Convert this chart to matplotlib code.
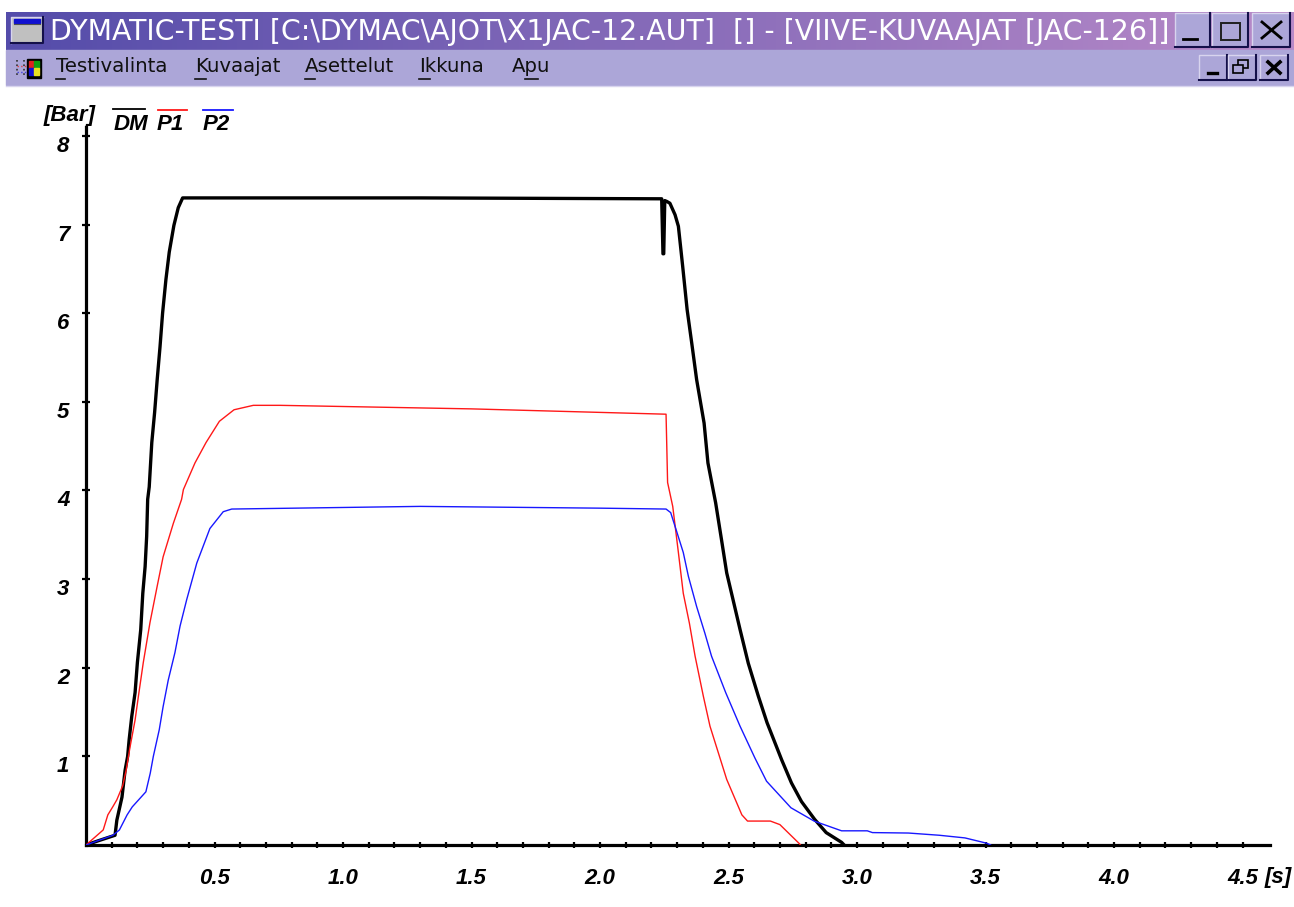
import numpy as np
import matplotlib
matplotlib.use('Agg')
import matplotlib.pyplot as plt
from matplotlib.patches import Rectangle

# curves: time [s], pressure [Bar]
dm_t = [0, 0.05, 0.113, 0.12, 0.14, 0.152, 0.162, 0.168, 0.178, 0.191, 0.20, 0.213, 0.221, 0.23, 0.236, 0.24,
        0.246, 0.256, 0.267, 0.277, 0.288, 0.298, 0.311, 0.324, 0.342, 0.359, 0.376,
        1.3, 2.24, 2.245, 2.248, 2.252, 2.26, 2.272, 2.292, 2.305, 2.315, 2.322, 2.339, 2.358, 2.376,
        2.405, 2.42, 2.45, 2.473, 2.493, 2.515, 2.545, 2.577, 2.616, 2.65, 2.707, 2.745, 2.784, 2.835,
        2.88, 2.94, 2.95]
dm_p = [0, 0.05, 0.11, 0.28, 0.54, 0.84, 1.0, 1.19, 1.45, 1.72, 2.06, 2.43, 2.84, 3.14, 3.48, 3.90,
        4.04, 4.54, 4.88, 5.25, 5.62, 6.0, 6.38, 6.69, 6.99, 7.19, 7.30,
        7.30, 7.29, 6.67, 6.67, 7.27, 7.26, 7.24, 7.11, 6.98, 6.71, 6.52, 6.04, 5.64, 5.25,
        4.76, 4.31, 3.86, 3.44, 3.07, 2.80, 2.43, 2.05, 1.68, 1.38, 0.96, 0.70, 0.49, 0.29,
        0.14, 0.03, 0]
p1_t = [0, 0.067, 0.085, 0.104, 0.12, 0.143, 0.156, 0.171, 0.191, 0.204, 0.223, 0.249, 0.277, 0.30, 0.34,
        0.372, 0.379, 0.424, 0.467, 0.519, 0.576, 0.651, 0.755, 1.5, 2.257, 2.26, 2.263, 2.283, 2.305,
        2.324, 2.348, 2.37, 2.402, 2.428, 2.467, 2.493, 2.552, 2.574, 2.663, 2.70, 2.774, 2.78]
p1_p = [0, 0.17, 0.34, 0.43, 0.51, 0.67, 0.84, 1.10, 1.41, 1.68, 2.06, 2.51, 2.92, 3.25, 3.63,
        3.90, 4.01, 4.31, 4.54, 4.78, 4.91, 4.96, 4.96, 4.92, 4.86, 4.48, 4.09, 3.82, 3.30,
        2.84, 2.5, 2.13, 1.68, 1.34, 0.98, 0.74, 0.34, 0.27, 0.27, 0.23, 0.02, 0]
p2_t = [0, 0.105, 0.13, 0.16, 0.18, 0.233, 0.25, 0.262, 0.285, 0.30, 0.32, 0.346, 0.366, 0.392, 0.431,
        0.482, 0.534, 0.567, 1.3, 2.0, 2.257, 2.275, 2.298, 2.324, 2.344, 2.376, 2.408, 2.434, 2.489,
        2.545, 2.603, 2.648, 2.743, 2.833, 2.94, 3.04, 3.06, 3.2, 3.32, 3.42, 3.505, 3.52]
p2_p = [0, 0.11, 0.17, 0.34, 0.43, 0.6, 0.81, 1.0, 1.30, 1.56, 1.86, 2.17, 2.47, 2.77, 3.18,
        3.57, 3.76, 3.79, 3.82, 3.80, 3.79, 3.75, 3.54, 3.30, 3.03, 2.69, 2.39, 2.13, 1.72,
        1.34, 0.98, 0.72, 0.42, 0.27, 0.16, 0.16, 0.14, 0.135, 0.11, 0.08, 0.02, 0]

x_labels = ['0.5', '1.0', '1.5', '2.0', '2.5', '3.0', '3.5', '4.0', '4.5']
x_label_pos = [0.5, 1.0, 1.5, 2.0, 2.5, 3.0, 3.5, 4.0, 4.5]
y_ticks = [1, 2, 3, 4, 5, 6, 7, 8]

title = 'DYMATIC-TESTI [C:\\DYMAC\\AJOT\\X1JAC-12.AUT]  [] - [VIIVE-KUVAAJAT [JAC-126]]'
menu_items = ['Testivalinta', 'Kuvaajat', 'Asettelut', 'Ikkuna', 'Apu']
menu_x = [56, 195, 305, 419, 512]

W, H = 1294, 907
fig = plt.figure(figsize=(W / 100, H / 100), dpi=100, facecolor='white')

# chart area, placed in pixels
left, right, top, bottom = 86, 1270, 127, 845
ax = fig.add_axes([left / W, 1 - bottom / H, (right - left) / W, (bottom - top) / H])
ax.set_xlim(0, 4.607)
ax.set_ylim(0, 8.10)
ax.plot(dm_t, dm_p, color='black', lw=2.4, solid_joinstyle='round', zorder=3)
ax.plot(p1_t, p1_p, color='#ff1818', lw=1.0, zorder=4)
ax.plot(p2_t, p2_p, color='#1818ff', lw=1.0, zorder=4)

for s in ['top', 'right']:
    ax.spines[s].set_visible(False)
for s in ['left', 'bottom']:
    ax.spines[s].set_linewidth(2.3)

lab_font = dict(family='Liberation Sans', weight='bold', style='italic', size=16)
ax.set_xticks(x_label_pos, x_labels, **lab_font)
ax.set_xticks(np.arange(1, 46) / 10, minor=True)
ax.tick_params(axis='x', which='both', direction='inout', length=5, width=1.6, pad=14)
ax.set_yticks(y_ticks, [str(v) for v in y_ticks], va='top', **lab_font)
ax.tick_params(axis='y', direction='inout', length=6, width=1.6, pad=9)

# pixel overlay for the window decoration and the hand placed labels
ov = fig.add_axes([0, 0, 1, 1], facecolor='none')
grad = np.linspace(0, 1, 256)[None, :, None]
c0 = np.array([84, 76, 170]) / 255
c1 = np.array([184, 138, 200]) / 255
ov.imshow(c0 + grad * (c1 - c0), extent=[6, 1294, 50, 12], aspect='auto', zorder=1)
ov.set_xlim(0, W)
ov.set_ylim(H, 0)
ov.axis('off')
ov.add_patch(Rectangle((6, 50), 1288, 35, color='#aca6d8', zorder=1))
ov.plot([6, 1294], [85.5, 85.5], color='#d8d4ee', lw=1, zorder=2)


def button(x0, y0, x1, y1, face='#aca6d8'):
    ov.add_patch(Rectangle((x0, y0), x1 - x0, y1 - y0, facecolor=face, edgecolor='none', zorder=2))
    ov.plot([x0, x0, x1], [y1, y0, y0], color='#d8d4ee', lw=1, zorder=3)
    ov.plot([x0, x1, x1], [y1, y1, y0], color='#14104a', lw=1.5, zorder=3)


# system icon
button(11, 17, 43, 43, face='#c0c0c0')
ov.add_patch(Rectangle((14, 19), 26, 3.5, color='#1010d0', zorder=4))
ov.plot([14, 40], [24, 24], color='#505050', lw=0.8, zorder=4)

ov.text(50, 32, title, color='white', family='DejaVu Sans', size=20.4, va='center', ha='left', zorder=5)

# window buttons
button(1175, 13, 1210, 47)
button(1212, 13, 1248, 47)
button(1252, 13, 1290, 47)
ov.plot([1183, 1197], [39, 39], color='black', lw=2, zorder=5)
ov.add_patch(Rectangle((1221, 23), 19, 17, fill=False, edgecolor='#202020', lw=1.4, zorder=5))
ov.plot([1262, 1281], [22, 38], color='black', lw=2, zorder=5)
ov.plot([1262, 1281], [38, 22], color='black', lw=2, zorder=5)

button(1199, 55, 1227, 80)
button(1228, 55, 1256, 80)
button(1260, 55, 1288, 80)
ov.plot([1208, 1217], [73, 73], color='black', lw=2.4, zorder=5)
ov.add_patch(Rectangle((1238, 60), 10, 8, facecolor='none', edgecolor='black', lw=1.2, zorder=5))
ov.add_patch(Rectangle((1233, 65), 10, 8, facecolor='#aca6d8', edgecolor='black', lw=1.2, zorder=6))
ov.plot([1268, 1280], [62, 73], color='black', lw=2.6, zorder=5)
ov.plot([1268, 1280], [73, 62], color='black', lw=2.6, zorder=5)

# small menu icon: dotted grid and a window with four colours
ov.add_patch(Rectangle((27, 59), 14, 19, color='black', zorder=4))
ov.add_patch(Rectangle((29, 61), 5, 7, color='#e02020', zorder=5))
ov.add_patch(Rectangle((34, 61), 5, 7, color='#10a010', zorder=5))
ov.add_patch(Rectangle((29, 68), 5, 7, color='#1010d0', zorder=5))
ov.add_patch(Rectangle((34, 68), 5, 7, color='#e8e020', zorder=5))
ov.plot([17, 17], [60, 77], color='#303030', lw=1.2, ls=':', zorder=5)
ov.plot([24, 24], [60, 77], color='#303030', lw=1.2, ls=':', zorder=5)
ov.plot([17, 27], [66, 66], color='#e04040', lw=1, ls=':', zorder=5)
ov.plot([17, 27], [72, 72], color='#4040e0', lw=1, ls=':', zorder=5)

for name, xp in zip(menu_items, menu_x):
    t = ov.text(xp, 67, name, color='#101010', family='DejaVu Sans', size=14.2, va='center', ha='left', zorder=5)
    bb = t.get_window_extent(fig.canvas.get_renderer())
    ul = bb.width / len(name)
    # accelerator underline: first letter, except "Apu" where it is the p
    ux = xp + ul if name == 'Apu' else xp
    ov.plot([ux, ux + ul], [79, 79], color='#101010', lw=1.2, zorder=5)

# axis units and legend
ov.text(70, 116, '[Bar]', ha='center', va='center', **lab_font)
ov.text(1278, 877, '[s]', ha='center', va='center', **lab_font)
ov.text(131, 125, 'DM', ha='center', va='center', **lab_font)
ov.text(170, 125, 'P1', ha='center', va='center', **lab_font)
ov.text(216.5, 125, 'P2', ha='center', va='center', **lab_font)
ov.plot([113, 145], [109, 109], color='black', lw=1.3)
ov.plot([158, 187], [110, 110], color='#ff1818', lw=1.3)
ov.plot([203, 233], [110, 110], color='#1818ff', lw=1.3)

fig.savefig('out.png', dpi=100)
